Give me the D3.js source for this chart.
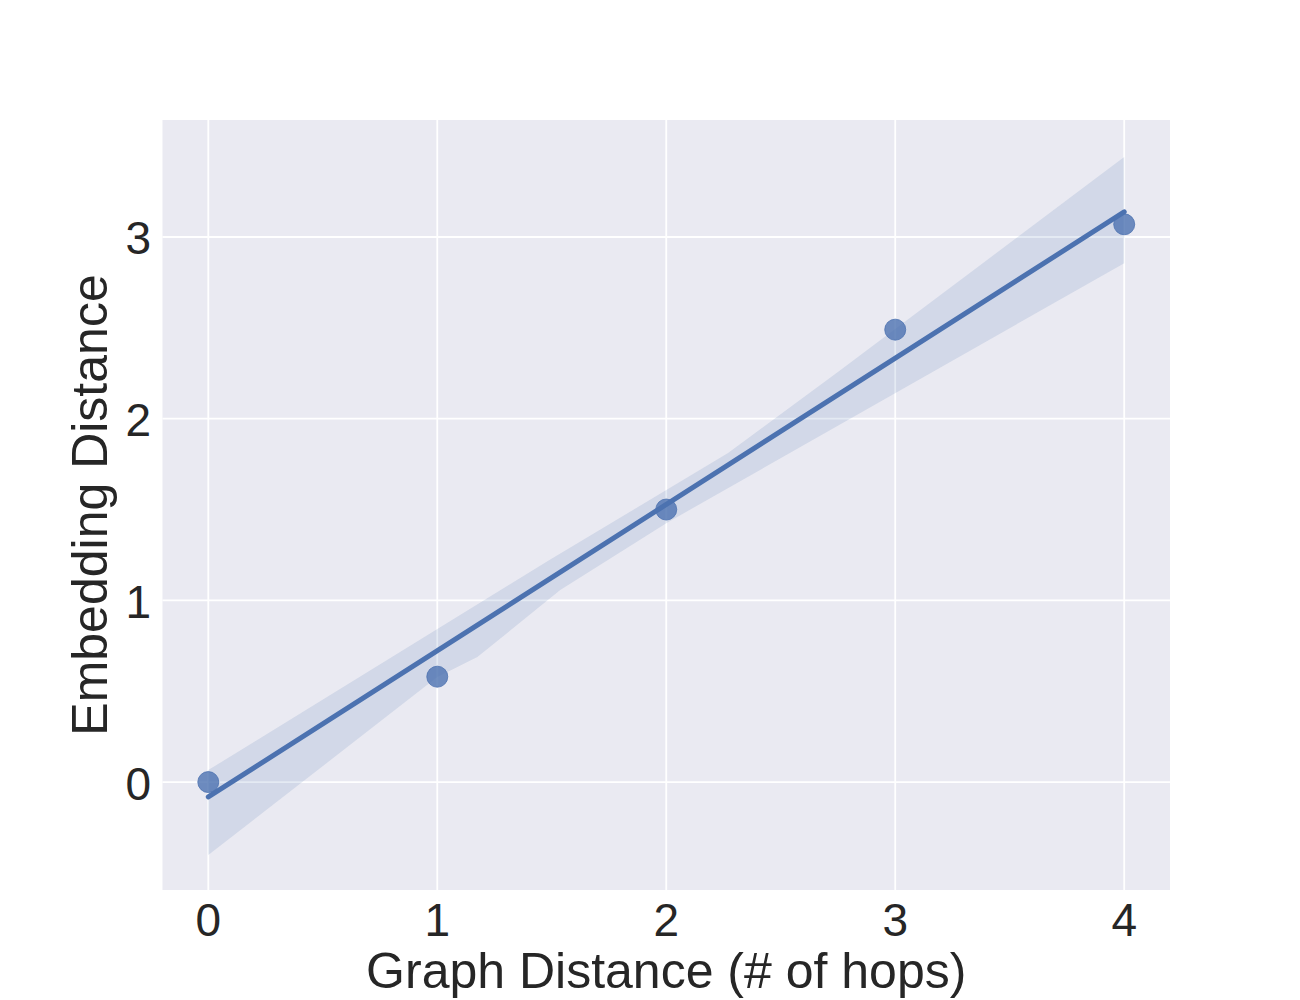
<!DOCTYPE html>
<html>
<head>
<meta charset="utf-8">
<script src="https://cdn.jsdelivr.net/npm/d3@7"></script>
<style>
  html, body { margin: 0; padding: 0; background: #fff; }
  text { font-family: "Liberation Sans", Arial, sans-serif; fill: #262626; }
</style>
</head>
<body>
<svg id="chart" width="1300" height="1000"></svg>
<script>
// ---- data ----
const hops = [0, 1, 2, 3, 4];
const embDist = [0.0, 0.58, 1.5, 2.49, 3.07];
// bootstrap confidence band
const ciUpperX = [0, 1.49, 2.27, 2.76, 4.0];
const ciUpperY = [0.066, 1.222, 1.811, 2.267, 3.44];
const ciLowerX = [0, 1.0, 1.175, 1.537, 2.0, 4.0];
const ciLowerY = [-0.402, 0.578, 0.688, 1.057, 1.425, 2.856];
const xTicks = [0, 1, 2, 3, 4];
const yTicks = [0, 1, 2, 3];
const xLabel = "Graph Distance (# of hops)";
const yLabel = "Embedding Distance";

// ---- layout ----
const svg = d3.select("#chart");
const L = 162.5, R = 1170, T = 120, B = 890;
const x = d3.scaleLinear().domain([-0.2, 4.2]).range([L, R]);
const y = d3.scaleLinear().domain([-0.594, 3.644]).range([B, T]);
const blue = "#4c72b0";

svg.append("rect").attr("x", L).attr("y", T).attr("width", R - L).attr("height", B - T)
  .attr("fill", "#eaeaf2");

// grid
const grid = svg.append("g");
grid.selectAll(".gx").data(xTicks).join("line")
  .attr("x1", d => x(d)).attr("x2", d => x(d)).attr("y1", T).attr("y2", B)
  .attr("stroke", "#fff").attr("stroke-width", 1.8);
grid.selectAll(".gy").data(yTicks).join("line")
  .attr("y1", d => y(d)).attr("y2", d => y(d)).attr("x1", L).attr("x2", R)
  .attr("stroke", "#fff").attr("stroke-width", 1.8);

// confidence band
const upperPts = ciUpperX.map((v, i) => [x(v), y(ciUpperY[i])]);
const lowerPts = ciLowerX.map((v, i) => [x(v), y(ciLowerY[i])]).reverse();
svg.append("path")
  .attr("d", d3.line()(upperPts.concat(lowerPts)) + "Z")
  .attr("fill", blue).attr("fill-opacity", 0.15).attr("stroke", "none");

// scatter
svg.append("g").selectAll("circle").data(hops).join("circle")
  .attr("cx", (d) => x(d)).attr("cy", (d, i) => y(embDist[i])).attr("r", 10.5)
  .attr("fill", blue).attr("fill-opacity", 0.8)
  .attr("stroke", blue).attr("stroke-opacity", 0.8).attr("stroke-width", 1);

// regression line (least squares fit of the data)
const mx = d3.mean(hops), my = d3.mean(embDist);
const slope = d3.sum(hops, (d, i) => (d - mx) * (embDist[i] - my)) / d3.sum(hops, d => (d - mx) ** 2);
const icpt = my - slope * mx;
const x0 = d3.min(hops), x1 = d3.max(hops);
svg.append("line")
  .attr("x1", x(x0)).attr("y1", y(icpt + slope * x0))
  .attr("x2", x(x1)).attr("y2", y(icpt + slope * x1))
  .attr("stroke", blue).attr("stroke-width", 5).attr("stroke-linecap", "round");

// tick labels
svg.append("g").selectAll("text").data(xTicks).join("text")
  .attr("x", d => x(d)).attr("y", 936).attr("text-anchor", "middle")
  .attr("font-size", 46).text(d => d);
svg.append("g").selectAll("text").data(yTicks).join("text")
  .attr("x", 151).attr("y", d => y(d)).attr("dy", "0.38em").attr("text-anchor", "end")
  .attr("font-size", 46).text(d => d);

// axis labels
svg.append("text").attr("x", (L + R) / 2).attr("y", 988).attr("text-anchor", "middle")
  .attr("font-size", 50).text(xLabel);
svg.append("text").attr("transform", `translate(107,${(T + B) / 2}) rotate(-90)`)
  .attr("text-anchor", "middle").attr("font-size", 50).text(yLabel);
</script>
</body>
</html>
